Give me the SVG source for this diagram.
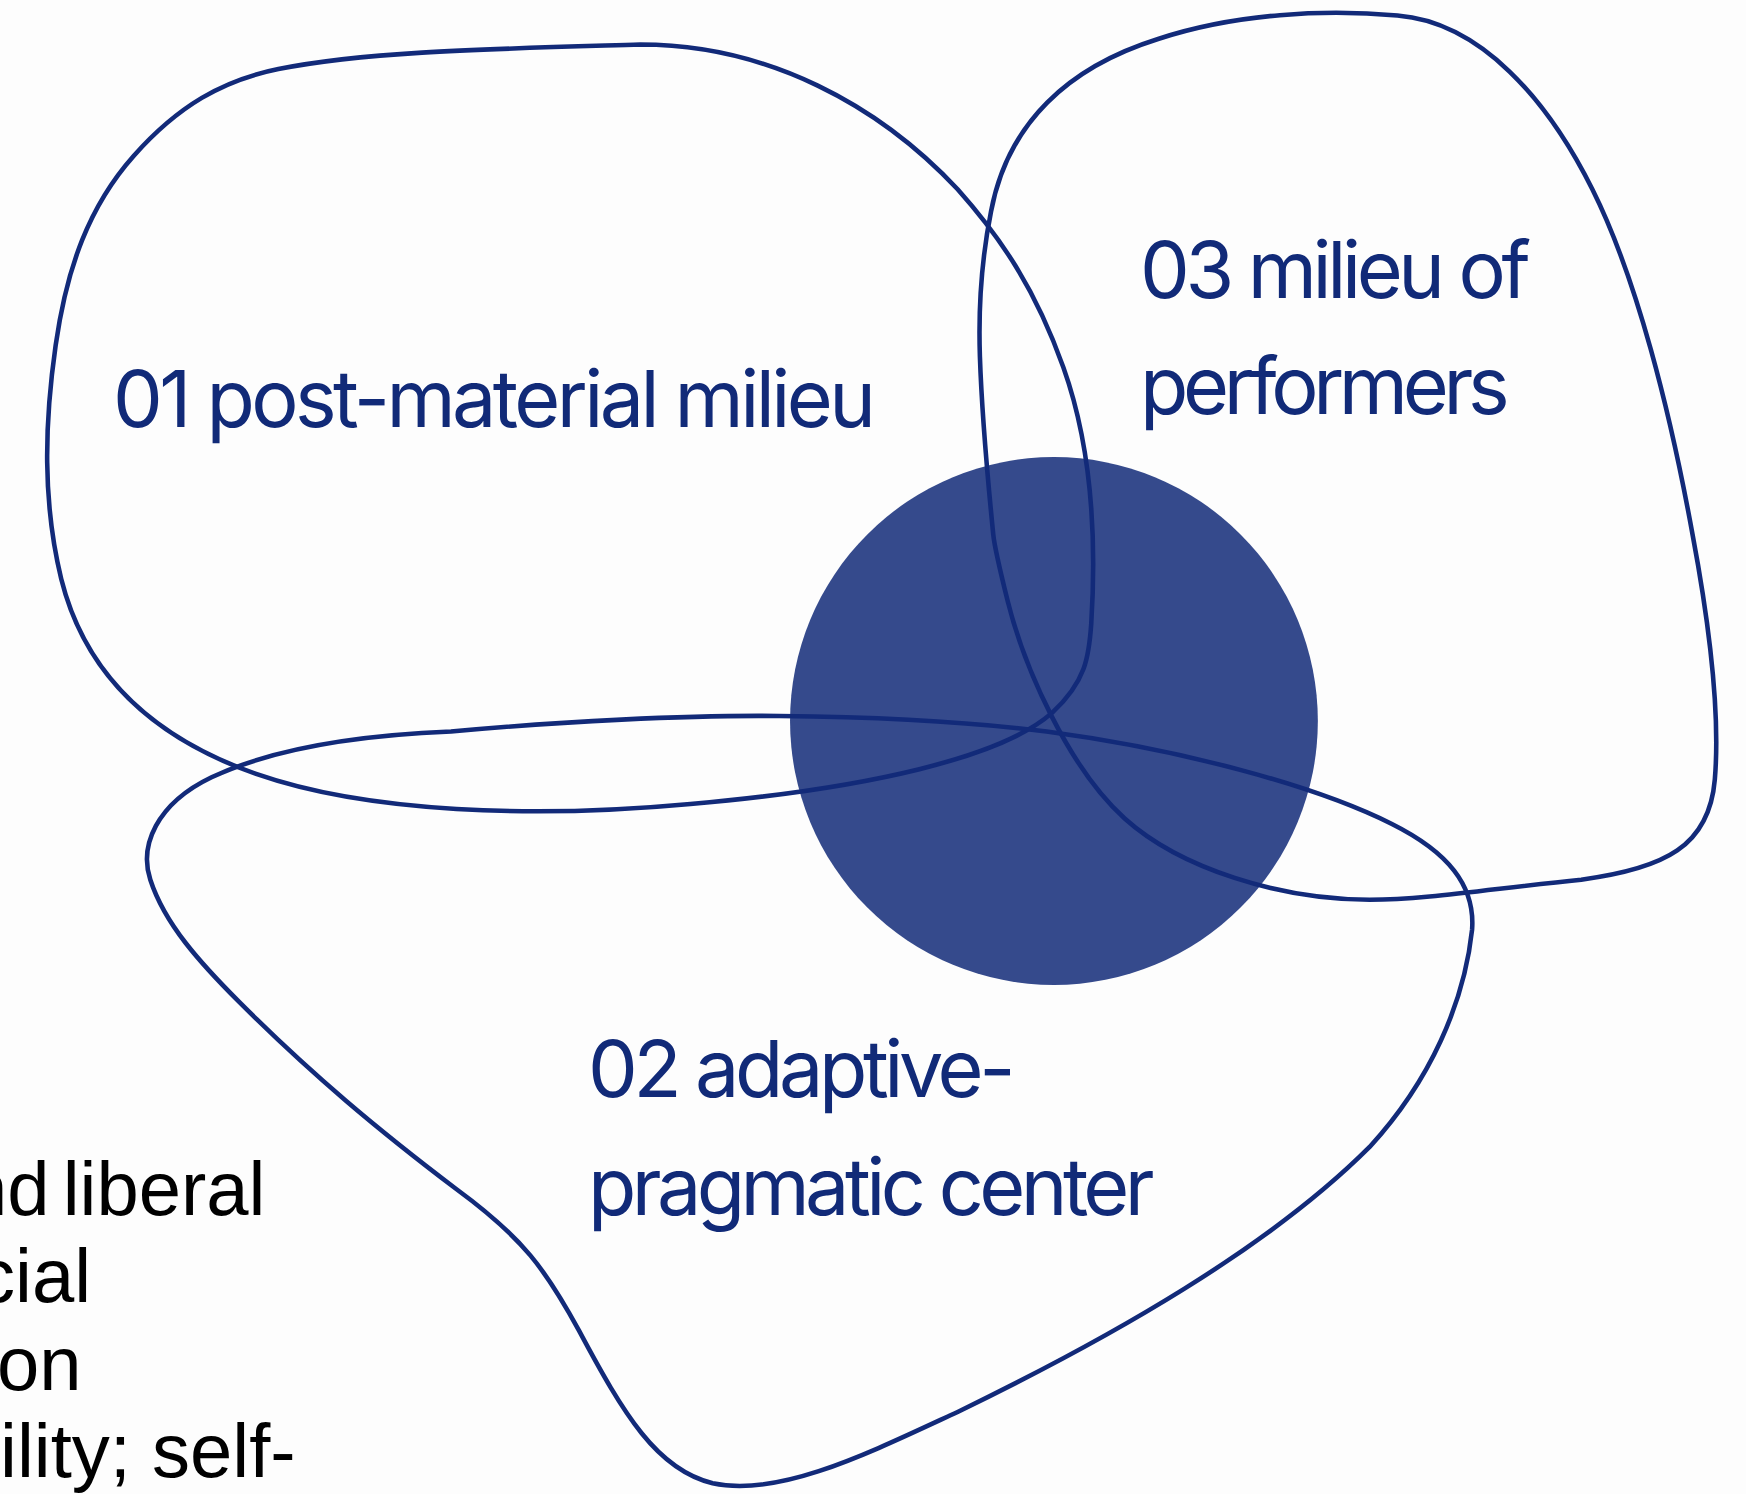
<svg xmlns="http://www.w3.org/2000/svg" width="1746" height="1494" viewBox="0 0 1746 1494">
<style>
.outline{fill:none;stroke:#122a79;stroke-width:4.1;stroke-linejoin:round}
.lbl{font-family:Inter,"Noto Sans",sans-serif;font-size:79px;letter-spacing:-4.4px;fill:#112a78}
.body{font-family:"Liberation Sans",Arial,sans-serif;font-size:76px;fill:#000}
</style>
<rect width="1746" height="1494" fill="#fdfdfd"/>
<g id="center-core" transform="scale(1.11352)">
<circle cx="946.5" cy="647.5" r="237" fill="#354a8c"/>
</g>
<g id="milieu-01">
<path class="outline" transform="scale(1.11352)" d="M575 40 C440 44 330 46 250 62 C200 72 160 95 120 140 C80 185 60 240 50 310 C40 380 38 450 55 520 C75 600 130 660 230 695 C330 730 480 735 620 722 C780 708 900 680 945 640 C975 612 978 590 980 560 C985 480 980 400 955 330 C930 260 900 215 860 170 C790 95 690 40 575 40 Z"/>
<text class="lbl" x="113" y="427" style="letter-spacing:-3.6px">01 post-material milieu</text>
</g>
<g id="milieu-03">
<path class="outline" transform="scale(1.11352)" d="M1255 14 C1330 20 1390 90 1430 170 C1470 250 1500 370 1520 480 C1535 560 1545 640 1540 700 C1535 760 1495 780 1420 790 C1340 798 1280 808 1230 808 C1150 808 1060 780 1010 735 C960 690 920 600 905 540 C895 500 893 490 892 480 C888 440 882 380 880 320 C878 260 884 220 890 190 C905 110 960 60 1040 35 C1110 12 1190 8 1255 14 Z"/>
<text class="lbl" x="1140" y="298">03 milieu of</text>
<text class="lbl" x="1140" y="414" style="letter-spacing:-5.3px">performers</text>
</g>
<g id="milieu-02">
<path class="outline" transform="scale(1.11352)" d="M405 657 C500 648 620 642 700 643 C800 644 870 648 940 657 C1060 673 1180 705 1250 740 C1300 765 1325 795 1322 835 C1315 900 1285 970 1230 1030 C1140 1120 1000 1200 860 1268 C780 1305 700 1345 640 1332 C590 1320 560 1270 520 1195 C490 1140 470 1112 410 1068 C340 1015 280 965 215 900 C180 865 148 830 135 790 C125 760 140 722 190 698 C250 670 330 660 405 657 Z"/>
<text class="lbl" x="588" y="1097">02 adaptive-</text>
<text class="lbl" x="588" y="1215" style="letter-spacing:-4.6px">pragmatic center</text>
</g>
<g id="description">
<text class="body" x="-35" y="1215" word-spacing="-8">nd liberal</text>
<text class="body" x="-23" y="1302">cial</text>
<text class="body" x="-3" y="1390">on</text>
<text class="body" x="0" y="1477">ility; self-</text>
</g>
</svg>
